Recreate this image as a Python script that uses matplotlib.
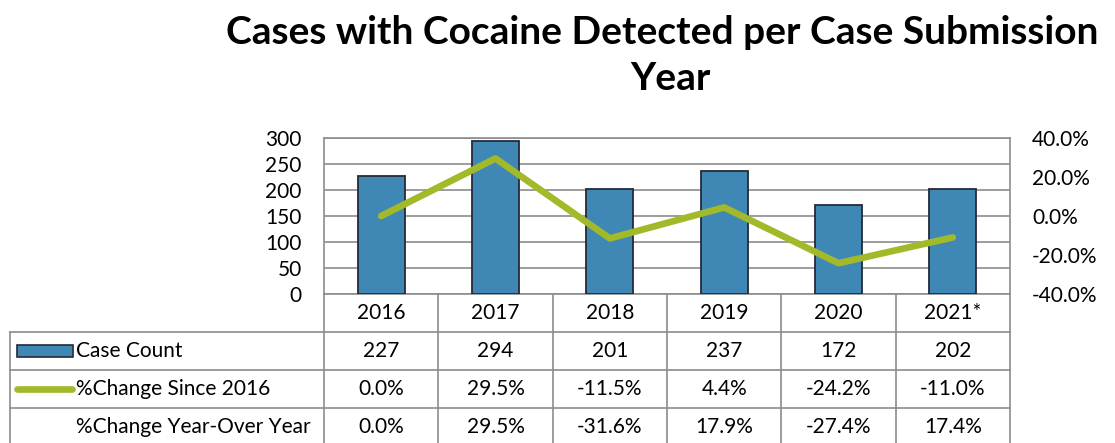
import matplotlib.pyplot as plt
from matplotlib.lines import Line2D
from matplotlib.patches import Rectangle

years = ["2016", "2017", "2018", "2019", "2020", "2021*"]
case_count = [227, 294, 201, 237, 172, 202]
change_since_2016 = [0.0, 29.5, -11.5, 4.4, -24.2, -11.0]
change_yoy = [0.0, 29.5, -31.6, 17.9, -27.4, 17.4]

plt.rcParams['font.family'] = ['Lato', 'DejaVu Sans']
bar_color = '#3F88B5'
line_color = '#A2B92A'
grid_color = '#8C8C8C'
fs = 15

W, H = 1115, 443
fig = plt.figure(figsize=(W / 100, H / 100), dpi=100)

# plot area in pixels
px0, px1, py0, py1 = 324, 1010, 138, 294
ax = fig.add_axes([px0 / W, 1 - py1 / H, (px1 - px0) / W, (py1 - py0) / H])
x = list(range(len(years)))
ax.bar(x, case_count, width=0.41, color=bar_color, edgecolor='#262A36', linewidth=1.3, zorder=3)
ax.set_xlim(-0.5, len(years) - 0.5)
ax.set_ylim(0, 300)
ax.set_yticks(range(0, 301, 50))
ax.set_xticks([])
ax.grid(axis='y', color=grid_color, linewidth=1.2, zorder=0)
for s in ax.spines.values():
    s.set_color(grid_color)
    s.set_linewidth(1.2)
ax.tick_params(axis='y', length=0, labelsize=fs, pad=16)

ax2 = ax.twinx()
ax2.plot(x, change_since_2016, color=line_color, linewidth=4.8, solid_capstyle='round', zorder=4)
ax2.set_ylim(-40, 40)
ax2.set_yticks(range(-40, 41, 20))
ax2.set_yticklabels([f"{v:.1f}%" for v in range(-40, 41, 20)])
ax2.tick_params(axis='y', length=0, labelsize=fs, pad=16)
for s in ax2.spines.values():
    s.set_visible(False)

fig.text(662 / W, 1 - 33 / H, "Cases with Cocaine Detected per Case Submission",
         ha='center', va='center', fontsize=28, fontweight='bold')
fig.text(670 / W, 1 - 79 / H, "Year", ha='center', va='center', fontsize=28, fontweight='bold')

# data table
tx0 = 10
row_y = [294, 332, 370, 408, 446]
col_w = (px1 - px0) / len(years)

def fline(xa, ya, xb, yb):
    fig.add_artist(Line2D([xa / W, xb / W], [1 - ya / H, 1 - yb / H],
                          color=grid_color, linewidth=1.2))

for i in range(len(years) + 1):
    fline(px0 + i * col_w, row_y[0], px0 + i * col_w, row_y[-1])
fline(tx0, row_y[1], tx0, row_y[-1])
for yy in row_y[1:]:
    fline(tx0, yy, px1, yy)

rows = [
    ("Case Count", [str(v) for v in case_count]),
    ("%Change Since 2016", [f"{v:.1f}%" for v in change_since_2016]),
    ("%Change Year-Over Year", [f"{v:.1f}%" for v in change_yoy]),
]
for i, yr in enumerate(years):
    fig.text((px0 + (i + 0.5) * col_w) / W, 1 - (row_y[0] + row_y[1]) / 2 / H, yr,
             ha='center', va='center', fontsize=fs)
for r, (label, vals) in enumerate(rows):
    yc = (row_y[r + 1] + row_y[r + 2]) / 2
    fig.text(76 / W, 1 - yc / H, label, ha='left', va='center', fontsize=fs)
    for i, v in enumerate(vals):
        fig.text((px0 + (i + 0.5) * col_w) / W, 1 - yc / H, v, ha='center', va='center', fontsize=fs)

# legend keys
yc = (row_y[1] + row_y[2]) / 2
fig.add_artist(Rectangle((17 / W, 1 - (yc + 6) / H), 56 / W, 12 / H,
                         facecolor=bar_color, edgecolor='#262A36', linewidth=1.2))
yc = (row_y[2] + row_y[3]) / 2
fig.add_artist(Line2D([17 / W, 72 / W], [1 - yc / H, 1 - yc / H], color=line_color,
                      linewidth=4.8, solid_capstyle='round'))

fig.savefig('out.png', dpi=100)
